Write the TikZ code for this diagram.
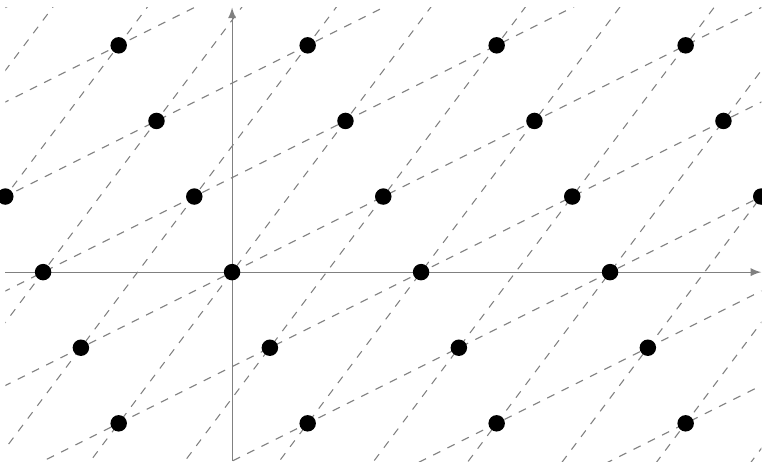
\documentclass[tikz,border=0pt]{standalone}
\usepackage{tikz}
\usetikzlibrary{arrows}

\begin{document}
\begin{tikzpicture}[grid/.style={gray, dashed}, axis/.style={gray, -latex},
    dot/.style={circle, fill=black, inner sep=0pt, minimum size=6.2pt}]
    \useasboundingbox (-3.07,-2.53) rectangle (7.01,3.6);
    \clip (-3.07,-2.53) rectangle (7.01,3.6);
    \begin{scope}
      \clip (-3,-2.5) rectangle (7,3.5);
      \begin{scope}[x={(2cm,1cm)}, y={(1.5cm,2cm)}]
        \foreach \k in {-8,...,8} {
          \draw[grid] (-10,\k) -- (10,\k);
          \draw[grid] (\k,-10) -- (\k,10);
        }
      \end{scope}
    \end{scope}
    \draw[axis] (-3,0) -- (7,0);
    \draw[axis] (0,-2.5) -- (0,3.5);
    \begin{scope}[x={(2cm,1cm)}, y={(1.5cm,2cm)}]
      \foreach \a in {-6,...,8}
        \foreach \b in {-5,...,5}
          \node[dot] (p\a\b) at (\a,\b) {};
    \end{scope}
  \end{tikzpicture}
\end{document}
